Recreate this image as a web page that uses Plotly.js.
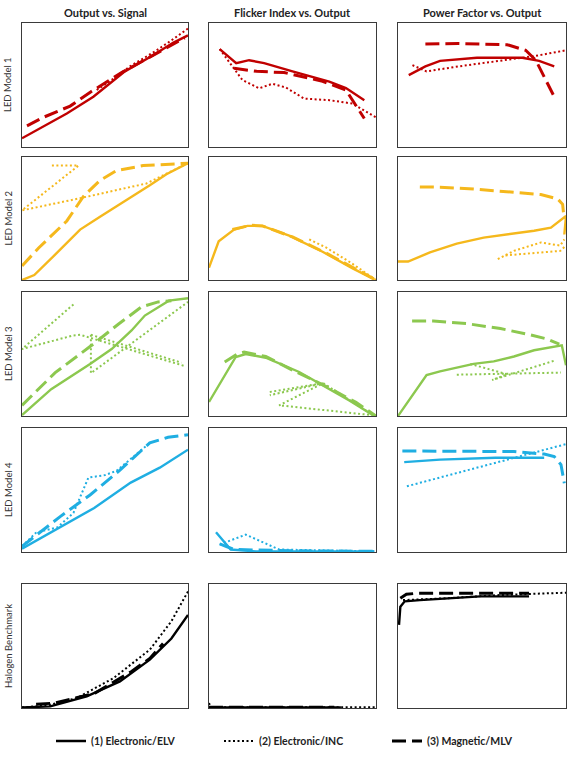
<!DOCTYPE html>
<html>
<head>
<meta charset="utf-8">
<script src="https://cdn.plot.ly/plotly-3.0.1.min.js"></script>
<style>
  html, body { margin: 0; padding: 0; background: #fff; }
  #chart { width: 576px; height: 758px; }
</style>
</head>
<body>
<div id="chart"></div>
<script>
// panel titles and row labels
const colTitles = ['Output vs. Signal', 'Flicker Index vs. Output', 'Power Factor vs. Output'];
const rowLabels = ['LED Model 1', 'LED Model 2', 'LED Model 3', 'LED Model 4', 'Halogen Benchmark'];
const driverNames = ['(1) Electronic/ELV', '(2) Electronic/INC', '(3) Magnetic/MLV'];
const rowColors = ['#C00000', '#F5B81C', '#8CC84F', '#1FAEE2', '#000000'];

// all values are normalised (no tick scales in the original), 0..1 per panel
// LED Model 1
const m1SigElvX = [0, 0.13, 0.27, 0.43, 0.62, 0.79, 0.91, 1];
const m1SigElvY = [0.07, 0.165, 0.27, 0.405, 0.61, 0.74, 0.84, 0.9];
const m1SigIncX = [0.45, 0.55, 0.65, 0.8, 0.9, 1];
const m1SigIncY = [0.46, 0.55, 0.65, 0.77, 0.86, 0.955];
const m1SigMlvX = [0.03, 0.13, 0.29, 0.42, 0.6, 0.8, 0.98];
const m1SigMlvY = [0.17, 0.24, 0.33, 0.45, 0.6, 0.75, 0.88];
const m1FiElvX = [0.064, 0.163, 0.24, 0.33, 0.5, 0.72, 0.82, 0.93];
const m1FiElvY = [0.79, 0.676, 0.7, 0.676, 0.61, 0.527, 0.475, 0.378];
const m1FiIncX = [0.064, 0.2, 0.3, 0.38, 0.46, 0.57, 0.72, 0.86, 1];
const m1FiIncY = [0.79, 0.54, 0.473, 0.51, 0.48, 0.39, 0.378, 0.35, 0.238];
const m1FiMlvX = [0.15, 0.285, 0.45, 0.68, 0.82, 0.86, 0.93];
const m1FiMlvY = [0.635, 0.61, 0.6, 0.53, 0.46, 0.38, 0.23];
const m1PfElvX = [0.064, 0.163, 0.25, 0.47, 0.74, 0.84, 0.93];
const m1PfElvY = [0.58, 0.65, 0.695, 0.72, 0.72, 0.695, 0.65];
const m1PfIncX = [0.086, 0.17, 0.36, 0.65, 0.82, 1];
const m1PfIncY = [0.66, 0.61, 0.65, 0.7, 0.735, 0.78];
const m1PfMlvX = [0.163, 0.36, 0.65, 0.76, 0.82, 0.87, 0.93];
const m1PfMlvY = [0.83, 0.835, 0.825, 0.78, 0.7, 0.57, 0.405];

// LED Model 2
const m2SigElvX = [0, 0.074, 0.21, 0.35, 0.47, 0.63, 0.77, 0.87, 1];
const m2SigElvY = [0, 0.04, 0.22, 0.41, 0.515, 0.65, 0.77, 0.86, 0.95];
const m2SigIncX = [0.18, 0.34, 0, 0.35, 0.75, 1];
const m2SigIncY = [0.93, 0.93, 0.566, 0.665, 0.785, 0.95];
const m2SigMlvX = [0, 0.1, 0.27, 0.37, 0.47, 0.57, 0.73, 0.87, 1];
const m2SigMlvY = [0.115, 0.26, 0.48, 0.68, 0.81, 0.89, 0.93, 0.94, 0.95];
const m2FiElvX = [0, 0.058, 0.15, 0.23, 0.32, 0.48, 0.68, 0.86, 0.99];
const m2FiElvY = [0.1, 0.315, 0.41, 0.44, 0.44, 0.36, 0.23, 0.095, 0.005];
const m2FiIncX = [0.6, 0.7, 0.85, 1];
const m2FiIncY = [0.33, 0.265, 0.14, 0];
const m2FiMlvX = [0.14, 0.25, 0.32, 0.5, 0.7, 0.88, 1];
const m2FiMlvY = [0.41, 0.445, 0.44, 0.35, 0.22, 0.09, 0];
const m2PfElvX = [0, 0.06, 0.19, 0.35, 0.51, 0.65, 0.81, 0.91, 0.986, 1, 0.99];
const m2PfElvY = [0.15, 0.15, 0.224, 0.296, 0.345, 0.372, 0.4, 0.426, 0.507, 0.52, 0.37];
const m2PfIncX = [0.594, 0.69, 0.85, 0.966, 0.99, null, 0.64, 0.8, 0.966, 1];
const m2PfIncY = [0.17, 0.237, 0.305, 0.28, 0.33, null, 0.2, 0.22, 0.237, 0.28];
const m2PfMlvX = [0.13, 0.25, 0.45, 0.65, 0.85, 0.95, 0.98, 0.985];
const m2PfMlvY = [0.757, 0.755, 0.74, 0.72, 0.695, 0.66, 0.615, 0.547];

// LED Model 3
const m3SigElvX = [0, 0.176, 0.41, 0.54, 0.66, 0.74, 0.885, 1];
const m3SigElvY = [0.008, 0.216, 0.42, 0.54, 0.69, 0.81, 0.93, 0.95];
const m3SigIncX = [0.31, 0, 0.31, 0.35, 0.975, null, 0.415, 0.96, null, 0.415, 0.415, 1];
const m3SigIncY = [0.9, 0.54, 0.65, 0.655, 0.405, null, 0.655, 0.43, null, 0.655, 0.345, 0.92];
const m3SigMlvX = [0, 0.2, 0.42, 0.58, 0.72, 0.82, 0.9];
const m3SigMlvY = [0.086, 0.35, 0.57, 0.74, 0.88, 0.92, 0.93];
const m3FiElvX = [0, 0.16, 0.22, 0.34, 0.54, 0.68, 0.84, 0.99];
const m3FiElvY = [0.113, 0.476, 0.5, 0.47, 0.355, 0.247, 0.126, 0];
const m3FiIncX = [0.364, 0.684, 0.364, 0.684, 0.42, 0.99, null, 0.684, 0.99];
const m3FiIncY = [0.194, 0.265, 0.167, 0.265, 0.086, 0.005, null, 0.265, 0];
const m3FiMlvX = [0.094, 0.17, 0.21, 0.26, 0.34, 0.5, 0.7, 0.88, 1];
const m3FiMlvY = [0.435, 0.5, 0.516, 0.5, 0.48, 0.37, 0.24, 0.11, 0];
const m3PfElvX = [0, 0.17, 0.25, 0.45, 0.57, 0.69, 0.81, 0.975, 1];
const m3PfElvY = [0, 0.33, 0.36, 0.42, 0.44, 0.48, 0.53, 0.57, 0.41];
const m3PfIncX = [0.35, 0.97, null, 0.43, 0.65, 0.56, 0.94];
const m3PfIncY = [0.333, 0.35, null, 0.42, 0.336, 0.29, 0.45];
const m3PfMlvX = [0.084, 0.21, 0.41, 0.61, 0.77, 0.89, 0.96];
const m3PfMlvY = [0.766, 0.766, 0.745, 0.705, 0.66, 0.62, 0.58];

// LED Model 4
const m4SigElvX = [0, 0.15, 0.28, 0.435, 0.655, 0.83, 1];
const m4SigElvY = [0.027, 0.14, 0.235, 0.355, 0.56, 0.68, 0.825];
const m4SigIncX = [0, 0.084, 0.215, 0.31, 0.4, 0.5, 0.57, 0.77];
const m4SigIncY = [0.046, 0.155, 0.2, 0.315, 0.6, 0.62, 0.655, 0.88];
const m4SigMlvX = [0, 0.23, 0.41, 0.59, 0.77, 0.88, 1];
const m4SigMlvY = [0.046, 0.285, 0.46, 0.66, 0.88, 0.925, 0.946];
const m4FiElvX = [0.042, 0.13, 0.28, 0.99];
const m4FiElvY = [0.16, 0.02, 0.005, 0.005];
const m4FiIncX = [0.064, 0.22, 0.42, 1];
const m4FiIncY = [0.06, 0.14, 0.02, 0.005];
const m4FiMlvX = [0.064, 0.15, 0.5, 0.99];
const m4FiMlvY = [0.065, 0.02, 0.01, 0.005];
const m4PfElvX = [0.037, 0.25, 0.58, 0.87];
const m4PfElvY = [0.725, 0.745, 0.76, 0.76];
const m4PfIncX = [0.053, 0.36, 0.69, 1];
const m4PfIncY = [0.53, 0.64, 0.76, 0.87];
const m4PfMlvX = [0.026, 0.36, 0.69, 0.87, 0.93, 0.97, 0.99];
const m4PfMlvY = [0.815, 0.815, 0.81, 0.79, 0.77, 0.705, 0.555];

// Halogen benchmark
const hbSigElvX = [0, 0.17, 0.39, 0.59, 0.77, 0.9, 1];
const hbSigElvY = [0.005, 0.013, 0.094, 0.214, 0.39, 0.56, 0.75];
const hbSigIncX = [0, 0.15, 0.33, 0.55, 0.77, 0.9, 1];
const hbSigIncY = [0.005, 0.02, 0.08, 0.24, 0.47, 0.7, 0.94];
const hbSigMlvX = [0.085, 0.2, 0.44, 0.66, 0.77, 0.85];
const hbSigMlvY = [0.03, 0.04, 0.12, 0.295, 0.4, 0.52];
const hbFiElvX = [0, 0.79];
const hbFiElvY = [0.005, 0.005];
const hbFiIncX = [0, 0.01, 1];
const hbFiIncY = [0.04, 0.006, 0.006];
const hbFiMlvX = [0, 0.75];
const hbFiMlvY = [0.006, 0.006];
const hbPfElvX = [0.006, 0.014, 0.04, 0.13, 0.49, 0.78];
const hbPfElvY = [0.67, 0.817, 0.86, 0.87, 0.9, 0.9];
const hbPfIncX = [0.03, 0.29, 0.59, 1];
const hbPfIncY = [0.87, 0.885, 0.91, 0.93];
const hbPfMlvX = [0.014, 0.05, 0.11, 0.19, 0.78];
const hbPfMlvY = [0.885, 0.917, 0.925, 0.925, 0.925];

const series = [
  [[m1SigElvX, m1SigElvY, m1SigIncX, m1SigIncY, m1SigMlvX, m1SigMlvY],
   [m1FiElvX, m1FiElvY, m1FiIncX, m1FiIncY, m1FiMlvX, m1FiMlvY],
   [m1PfElvX, m1PfElvY, m1PfIncX, m1PfIncY, m1PfMlvX, m1PfMlvY]],
  [[m2SigElvX, m2SigElvY, m2SigIncX, m2SigIncY, m2SigMlvX, m2SigMlvY],
   [m2FiElvX, m2FiElvY, m2FiIncX, m2FiIncY, m2FiMlvX, m2FiMlvY],
   [m2PfElvX, m2PfElvY, m2PfIncX, m2PfIncY, m2PfMlvX, m2PfMlvY]],
  [[m3SigElvX, m3SigElvY, m3SigIncX, m3SigIncY, m3SigMlvX, m3SigMlvY],
   [m3FiElvX, m3FiElvY, m3FiIncX, m3FiIncY, m3FiMlvX, m3FiMlvY],
   [m3PfElvX, m3PfElvY, m3PfIncX, m3PfIncY, m3PfMlvX, m3PfMlvY]],
  [[m4SigElvX, m4SigElvY, m4SigIncX, m4SigIncY, m4SigMlvX, m4SigMlvY],
   [m4FiElvX, m4FiElvY, m4FiIncX, m4FiIncY, m4FiMlvX, m4FiMlvY],
   [m4PfElvX, m4PfElvY, m4PfIncX, m4PfIncY, m4PfMlvX, m4PfMlvY]],
  [[hbSigElvX, hbSigElvY, hbSigIncX, hbSigIncY, hbSigMlvX, hbSigMlvY],
   [hbFiElvX, hbFiElvY, hbFiIncX, hbFiIncY, hbFiMlvX, hbFiMlvY],
   [hbPfElvX, hbPfElvY, hbPfIncX, hbPfIncY, hbPfMlvX, hbPfMlvY]],
];

const W = 576, H = 758;
const colPx = [[22, 188], [209, 376], [398, 566]];
const rowPx = [[23, 147], [157, 280], [292, 416], [428, 552], [584, 708]];
const FONT = 'Lato, "Open Sans", sans-serif';
const lineStyles = [
  { width: 2.4, dash: 'solid' },
  { width: 2, dash: '2px,2.5px' },
  { width: 3, dash: '14px,6px' },
];

const traces = [];
const layout = {
  width: W, height: H,
  margin: { l: 0, r: 0, t: 0, b: 0 },
  paper_bgcolor: '#fff', plot_bgcolor: '#fff',
  showlegend: true,
  legend: {
    orientation: 'h', x: 51 / W, xanchor: 'left', y: 1 - 741 / H, yanchor: 'middle',
    font: { family: FONT, size: 10.5, color: '#222', weight: 'bold' },
    entrywidth: 123, entrywidthmode: 'pixels', traceorder: 'normal',
  },
  annotations: [],
};

rowLabels.forEach((lab, r) => {
  colTitles.forEach((t, c) => {
    const n = r * 3 + c + 1;
    const sfx = n === 1 ? '' : String(n);
    const axBase = {
      range: [0, 1], showticklabels: false, ticks: '', showgrid: false, zeroline: false,
      showline: true, mirror: true, linecolor: '#3a3a3a', linewidth: 1, fixedrange: true,
    };
    layout['xaxis' + sfx] = { ...axBase, domain: [colPx[c][0] / W, colPx[c][1] / W], anchor: 'y' + sfx };
    layout['yaxis' + sfx] = { ...axBase, domain: [1 - rowPx[r][1] / H, 1 - rowPx[r][0] / H], anchor: 'x' + sfx };
    const s = series[r][c];
    for (let k = 0; k < 3; k++) {
      traces.push({
        x: s[k * 2], y: s[k * 2 + 1], xaxis: 'x' + sfx, yaxis: 'y' + sfx,
        mode: 'lines', line: { color: rowColors[r], width: lineStyles[k].width, dash: lineStyles[k].dash },
        showlegend: false, hoverinfo: 'skip', connectgaps: false,
      });
    }
  });
  const mid = (rowPx[r][0] + rowPx[r][1]) / 2;
  layout.annotations.push({
    text: lab, xref: 'paper', yref: 'paper', x: 8 / W, y: 1 - mid / H,
    xanchor: 'center', yanchor: 'middle',
    textangle: -90, showarrow: false, font: { family: FONT, size: 9.5, color: '#333' },
  });
});

colTitles.forEach((t, c) => {
  layout.annotations.push({
    text: t, xref: 'paper', yref: 'paper', x: (colPx[c][0] + colPx[c][1]) / 2 / W, y: 1 - 12 / H,
    xanchor: 'center', yanchor: 'middle',
    showarrow: false, font: { family: FONT, size: 11, color: '#222', weight: 'bold' },
  });
});

// legend entries (black samples)
driverNames.forEach((name, k) => {
  traces.push({
    x: [null], y: [null], mode: 'lines', name: name,
    line: { color: '#000', width: lineStyles[k].width, dash: lineStyles[k].dash },
    showlegend: true, hoverinfo: 'skip',
  });
});

Plotly.newPlot('chart', traces, layout, { staticPlot: true, displayModeBar: false });
</script>
</body>
</html>
